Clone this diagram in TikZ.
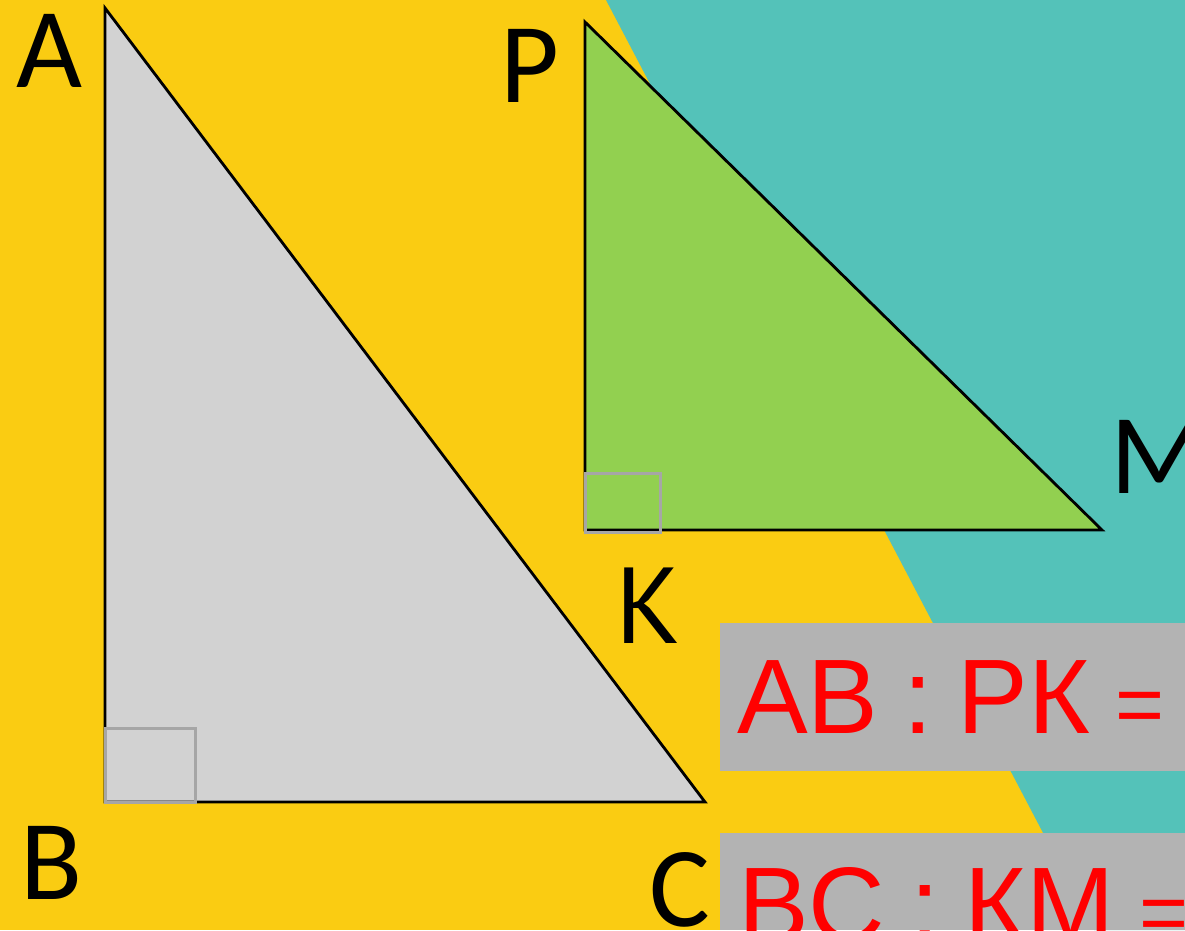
\documentclass[tikz,border=0pt]{standalone}
\usepackage{fontspec}
\setmainfont{Carlito}
\newfontfamily\boxfont{Liberation Sans}
\newfontfamily\kafont{PT Sans}
\newcommand\tightspaces{\spaceskip 0.235em\relax}
\newcommand\smalleq{{\fontsize{84pt}{84pt}\selectfont =}}
\definecolor{bgyellow}{RGB}{250,204,18}
\definecolor{bgteal}{RGB}{84,194,185}
\definecolor{trigray}{RGB}{210,210,210}
\definecolor{trigreen}{RGB}{146,208,80}
\definecolor{markgray}{RGB}{166,166,166}
\definecolor{boxgray}{RGB}{179,179,179}
\definecolor{textred}{RGB}{255,0,0}
\tikzset{
  tri/.style={draw=black,line width=2.8pt,line join=miter},
  rmark/.style={draw=markgray,line width=3pt},
  vlabel/.style={anchor=base west,inner sep=0pt,font=\fontsize{114pt}{114pt}\selectfont},
  kalabel/.style={anchor=base west,inner sep=0pt,font=\kafont\fontsize{108pt}{108pt}\selectfont},
  ratiobox/.style={fill=boxgray,draw=none},
  ratiotext/.style={anchor=base west,inner sep=0pt,text=textred,font=\boxfont\fontsize{106pt}{106pt}\selectfont}
}
\begin{document}
\begin{tikzpicture}[x=1pt,y=-1pt]
\useasboundingbox (0,0) rectangle (1185,930);
\clip (0,0) rectangle (1185,930);
\fill[bgyellow] (0,0) rectangle (1185,930);
\fill[bgteal] (606,0) -- (1185,0) -- (1185,930) -- (1094,930) -- cycle;
% triangle ABC
\coordinate (A) at (105,8);
\coordinate (B) at (105,802);
\coordinate (C) at (705,802);
\filldraw[fill=trigray,tri] (A) -- (B) -- (C) -- cycle;
\draw[rmark] (105,728) rectangle (195,802);
% triangle PKM
\coordinate (P) at (585,22);
\coordinate (K) at (585,530);
\coordinate (M) at (1102,530);
\filldraw[fill=trigreen,tri] (P) -- (K) -- (M) -- cycle;
\draw[rmark] (585,473) rectangle (660,532);
% labels
\node[vlabel] (lA) at (16,87) {A};
\node[vlabel] (lP) at (500,102) {P};
\node[vlabel] (lM) at (1110,493) {M};
\node[kalabel] (lK) at (615,643) {К};
\node[vlabel] (lB) at (20,899) {B};
\node[vlabel] (lC) at (649,926) {C};
% ratio boxes
\fill[ratiobox] (720,623) rectangle (1185,771);
\fill[ratiobox] (720,833) rectangle (1185,930);
\node[ratiotext] (r1) at (737,733) {\tightspaces AB : PК \smalleq};
\node[ratiotext] (r2) at (738,941) {\tightspaces BC : КМ \smalleq};
\end{tikzpicture}
\end{document}
